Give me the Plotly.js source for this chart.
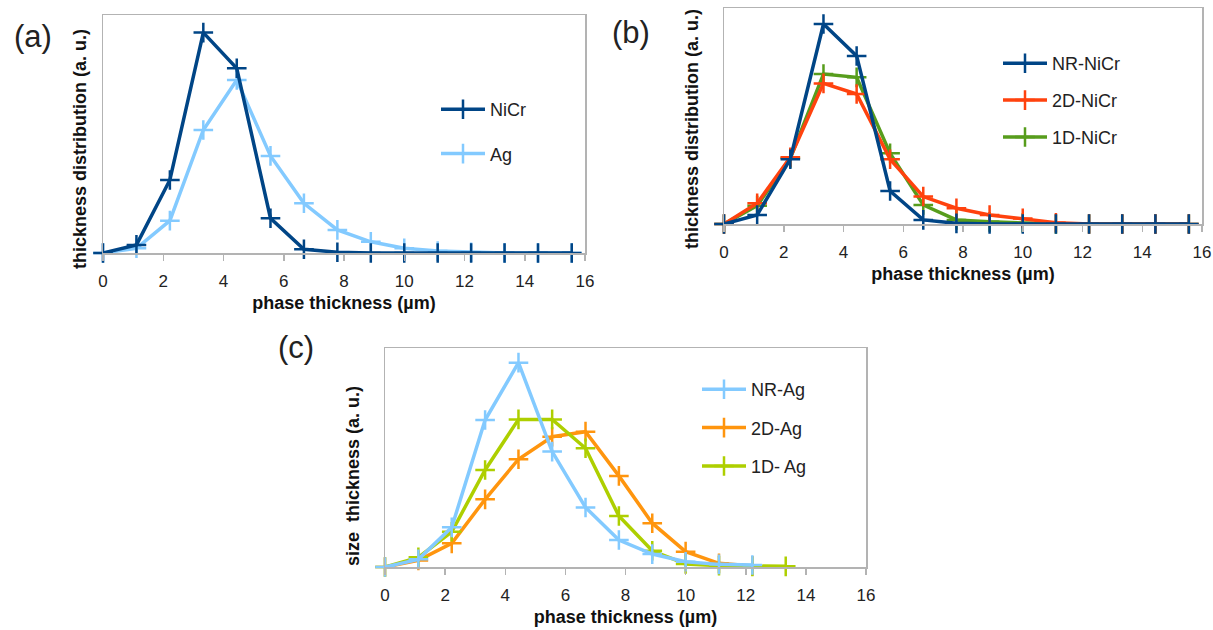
<!DOCTYPE html>
<html>
<head>
<meta charset="utf-8">
<script src="https://cdn.plot.ly/plotly-3.0.1.min.js"></script>
<style>
html,body{margin:0;padding:0;background:#fff;}
#chart{width:1213px;height:630px;}
</style>
</head>
<body>
<div id="chart"></div>
<script>
// phase thickness (µm) sample positions
const thickness = [0, 1.11, 2.22, 3.33, 4.44, 5.56, 6.67, 7.78, 8.89, 10, 11.11, 12.22, 13.33, 14.44, 15.56];

// (a)
const aNiCr = [0, 0.034, 0.307, 0.926, 0.776, 0.146, 0.016, 0.003, 0, 0, 0, 0, 0, 0, 0];
const aAg   = [0, 0.02, 0.136, 0.517, 0.727, 0.408, 0.209, 0.097, 0.047, 0.02, 0.008, 0.003, 0, 0, 0];

// (b)
const bNR = [0, 0.042, 0.30, 0.926, 0.778, 0.153, 0.019, 0.003, 0, 0, 0, 0, 0, 0, 0];
const b2D = [0, 0.096, 0.309, 0.651, 0.602, 0.30, 0.127, 0.073, 0.042, 0.026, 0.006, 0, 0, 0, 0];
const b1D = [0, 0.085, 0.305, 0.694, 0.679, 0.327, 0.088, 0.019, 0.01, 0.005, 0, 0, 0, 0, 0];

// (c)
const cNR = [0, 0.035, 0.181, 0.671, 0.933, 0.527, 0.272, 0.123, 0.059, 0.024, 0.012, 0.009];
const c2D = [0, 0.03, 0.108, 0.309, 0.492, 0.595, 0.618, 0.416, 0.2, 0.07, 0.017, 0.005];
const c1D = [0, 0.044, 0.161, 0.443, 0.674, 0.674, 0.542, 0.233, 0.074, 0.014, 0.006, 0.003, 0.003];

const xTickVals = [0, 2, 4, 6, 8, 10, 12, 14, 16];
const xTickText = ['0', '2', '4', '6', '8', '10', '12', '14', '16'];
const yTitleA = 'thickness distribution (a. u.)';
const yTitleB = 'thickness distribution (a. u.)';
const yTitleC = 'size  thickness (a. u.)';
const xTitle = 'phase thickness (µm)';

const FONT = 'Liberation Sans, Arial, sans-serif';

function tr(y, name, color, xa, ya, leg, rank) {
  return {
    x: thickness.slice(0, y.length), y: y, name: name,
    xaxis: xa, yaxis: ya, legend: leg, legendgroup: name, legendrank: rank,
    type: 'scatter', mode: 'lines+markers',
    line: {color: color, width: 3.5},
    marker: {symbol: 'cross-thin', size: 14, color: color, line: {color: color, width: 2.5}},
    cliponaxis: false
  };
}

const data = [
  tr(aAg, 'Ag', '#83caff', 'x', 'y', 'legend', 2),
  tr(aNiCr, 'NiCr', '#004586', 'x', 'y', 'legend', 1),
  tr(b1D, '1D-NiCr', '#579d1c', 'x2', 'y2', 'legend2', 3),
  tr(b2D, '2D-NiCr', '#ff420e', 'x2', 'y2', 'legend2', 2),
  tr(bNR, 'NR-NiCr', '#004586', 'x2', 'y2', 'legend2', 1),
  tr(c2D, '2D-Ag', '#ff950e', 'x3', 'y3', 'legend3', 2),
  tr(c1D, '1D- Ag', '#aecf00', 'x3', 'y3', 'legend3', 3),
  tr(cNR, 'NR-Ag', '#83caff', 'x3', 'y3', 'legend3', 1)
];

function xax(domain, anchor) {
  return {
    domain: domain, anchor: anchor, range: [0, 16],
    tickvals: xTickVals, ticktext: xTickText,
    showline: true, linecolor: '#b3b3b3', linewidth: 1.5, mirror: true,
    ticks: 'outside', ticklen: 6, tickcolor: '#b3b3b3', tickwidth: 1.5,
    showgrid: false, zeroline: false,
    ticklabelstandoff: 6,
    tickfont: {family: FONT, size: 17, color: '#222'},
    title: {text: xTitle, standoff: 6,
            font: {family: FONT, size: 18, color: '#111', weight: 'bold'}}
  };
}
function yax(domain, anchor) {
  return {
    domain: domain, anchor: anchor, range: [0, 1],
    showline: true, linecolor: '#b3b3b3', linewidth: 1.5, mirror: true,
    showticklabels: false, ticks: '', showgrid: false, zeroline: false
  };
}

function leg(x, y, gap) {
  return {
    x: x, y: y, xanchor: 'left', yanchor: 'top',
    bgcolor: 'rgba(0,0,0,0)', borderwidth: 0,
    font: {family: FONT, size: 18, color: '#222'},
    tracegroupgap: gap, itemwidth: 44, traceorder: 'grouped'
  };
}

const W = 1213, H = 630;
const px = v => v / W, py = v => 1 - v / H;

function ytitle(text, x, y) {
  return {text: text, x: px(x), y: py(y), xref: 'paper', yref: 'paper', showarrow: false,
          textangle: -90, xanchor: 'center', yanchor: 'middle',
          font: {family: FONT, size: 18, color: '#111', weight: 'bold'}};
}
function panel(text, x, y) {
  return {text: text, x: px(x), y: py(y), xref: 'paper', yref: 'paper', showarrow: false,
          xanchor: 'center', yanchor: 'middle',
          font: {family: FONT, size: 31, color: '#222'}};
}

const layout = {
  width: W, height: H,
  margin: {l: 0, r: 0, t: 0, b: 0},
  paper_bgcolor: '#fff', plot_bgcolor: '#fff',
  showlegend: true,
  xaxis: xax([px(103), px(585)], 'y'),
  yaxis: yax([py(253), py(15)], 'x'),
  xaxis2: xax([px(724), px(1202)], 'y2'),
  yaxis2: yax([py(224), py(8)], 'x2'),
  xaxis3: xax([px(385), px(866)], 'y3'),
  yaxis3: yax([py(567), py(348)], 'x3'),
  legend: leg(px(436), py(91), 18),
  legend2: leg(px(998), py(45), 10.5),
  legend3: leg(px(697), py(371), 12),
  annotations: [
    ytitle(yTitleA, 80, 149),
    ytitle(yTitleB, 692, 129),
    ytitle(yTitleC, 353, 476),
    panel('(a)', 33, 36),
    panel('(b)', 631, 32),
    panel('(c)', 296, 347)
  ]
};

Plotly.newPlot('chart', data, layout, {displayModeBar: false, staticPlot: true});
</script>
</body>
</html>
